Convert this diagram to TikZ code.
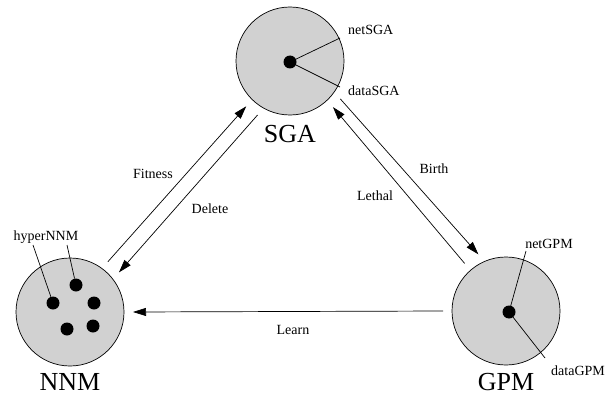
\documentclass[tikz,border=0pt]{standalone}
\usepackage{fontspec}
\setmainfont{Liberation Serif}
\usetikzlibrary{arrows.meta,positioning}

\begin{document}
\begin{tikzpicture}[
  x=1pt,y=-1pt,
  pool/.style={draw,circle,fill=black!18,minimum size=108pt,inner sep=0pt,outer sep=9pt,line width=0.7pt},
  core/.style={circle,fill=black,minimum size=13pt,inner sep=0pt},
  tag/.style={font=\fontsize{14}{16}\selectfont,inner sep=0pt},
  big/.style={font=\fontsize{26}{30}\selectfont,inner sep=0pt,anchor=base},
  arr/.style={-{Triangle[length=13pt,width=8pt]},line width=0.7pt},
  lead/.style={line width=0.7pt}
]
  \useasboundingbox (0,0) rectangle (610,396);

  % the three pools
  \node[pool] (sga) at (290,61) {};
  \node[pool] (nnm) at (70,312) {};
  \node[pool] (gpm) at (506,311) {};

  \node[big] (sganame) at (290,142) {SGA};
  \node[big] (nnmname) at (70,390) {NNM};
  \node[big] (gpmname) at (506,390) {GPM};

  % inner parts
  \node[core] (sgacore) at (290,62) {};
  \node[core] (gpmcore) at (509,312) {};
  \node[core] (hyper1) at (76,285) {};
  \node[core] (hyper2) at (53,303) {};
  \node[core] (hyper3) at (94,303) {};
  \node[core] (hyper4) at (93,326) {};
  \node[core] (hyper5) at (67,329) {};

  % part labels
  \node[tag,anchor=base west] (netsga) at (348,35) {netSGA};
  \node[tag,anchor=base west] (datasga) at (348,95) {dataSGA};
  \node[tag,anchor=base] (hypernnm) at (46,240) {hyperNNM};
  \node[tag,anchor=base] (netgpm) at (549,248) {netGPM};
  \node[tag,anchor=base] (datagpm) at (578,375) {dataGPM};

  \coordinate (netsgaend) at (340,38);
  \coordinate (datasgaend) at (340,87);
  \coordinate (hyperstart1) at (33,245);
  \coordinate (hyperstart2) at (67,245);
  \coordinate (netgpmend) at (526,251);
  \coordinate (datagpmend) at (545,358);

  \draw[lead] (sgacore.center) -- (netsgaend);
  \draw[lead] (sgacore.center) -- (datasgaend);
  \draw[lead] (hyperstart1) -- (hyper2);
  \draw[lead] (hyperstart2) -- (hyper1);
  \draw[lead] (gpmcore.center) -- (netgpmend);
  \draw[lead] (gpmcore.center) -- (datagpmend);

  % flows between pools
  \draw[arr] (nnm.53) -- (sga.226);
  \draw[arr] (sga.239) -- (nnm.39);
  \draw[arr] (sga.323) -- (gpm.116);
  \draw[arr] (gpm.131) -- (sga.313);
  \draw[arr] (gpm.180) -- (nnm.0);

  \node[tag,anchor=base] (fitness) at (153,178) {Fitness};
  \node[tag,anchor=base] (delete) at (210,213) {Delete};
  \node[tag,anchor=base] (birth) at (434,173) {Birth};
  \node[tag,anchor=base] (lethal) at (375,200) {Lethal};
  \node[tag,anchor=base] (learn) at (293,334) {Learn};
\end{tikzpicture}
\end{document}
